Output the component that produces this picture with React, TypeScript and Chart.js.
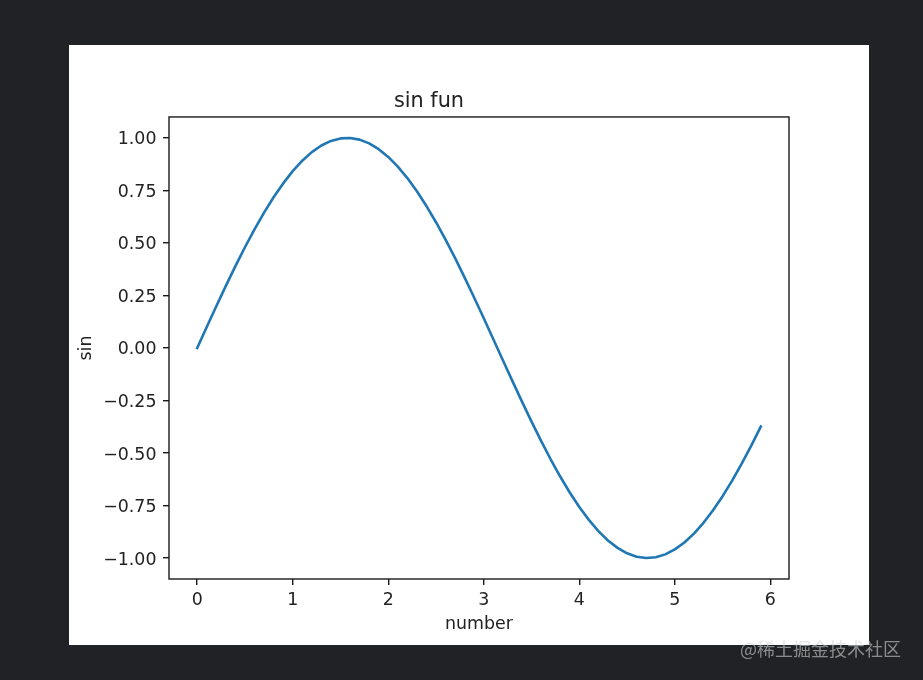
import React, { useEffect, useRef } from "react";
import { Chart, registerables } from "chart.js";

Chart.register(...registerables);

// x values (number) and sin values
const xValues = [
  0.0, 0.1, 0.2, 0.3, 0.4, 0.5, 0.6, 0.7, 0.8, 0.9,
  1.0, 1.1, 1.2, 1.3, 1.4, 1.5, 1.6, 1.7, 1.8, 1.9,
  2.0, 2.1, 2.2, 2.3, 2.4, 2.5, 2.6, 2.7, 2.8, 2.9,
  3.0, 3.1, 3.2, 3.3, 3.4, 3.5, 3.6, 3.7, 3.8, 3.9,
  4.0, 4.1, 4.2, 4.3, 4.4, 4.5, 4.6, 4.7, 4.8, 4.9,
  5.0, 5.1, 5.2, 5.3, 5.4, 5.5, 5.6, 5.7, 5.8, 5.9,
];
const sinValues = [
  0.0, 0.0998, 0.1987, 0.2955, 0.3894, 0.4794, 0.5646, 0.6442, 0.7174, 0.7833,
  0.8415, 0.8912, 0.932, 0.9636, 0.9854, 0.9975, 0.9996, 0.9917, 0.9738, 0.9463,
  0.9093, 0.8632, 0.8085, 0.7457, 0.6755, 0.5985, 0.5155, 0.4274, 0.335, 0.2392,
  0.1411, 0.0416, -0.0584, -0.1577, -0.2555, -0.3508, -0.4425, -0.5298, -0.6119, -0.6878,
  -0.7568, -0.8183, -0.8716, -0.9162, -0.9516, -0.9775, -0.9937, -0.9999, -0.9962, -0.9825,
  -0.9589, -0.9258, -0.8835, -0.8323, -0.7728, -0.7055, -0.6313, -0.5507, -0.4646, -0.3739,
];

const xTickValues = [0, 1, 2, 3, 4, 5, 6];
const xTickLabels = ["0", "1", "2", "3", "4", "5", "6"];
const yTickValues = [-1, -0.75, -0.5, -0.25, 0, 0.25, 0.5, 0.75, 1];
const yTickLabels = ["\u22121.00", "\u22120.75", "\u22120.50", "\u22120.25", "0.00", "0.25", "0.50", "0.75", "1.00"];

const xLimits = [-0.295, 6.195];
const yLimits = [-1.0997, 1.0995];

const TITLE = "sin fun";
const X_LABEL = "number";
const Y_LABEL = "sin";
const WATERMARK = "@稀土掘金技术社区";

const FONT = "'DejaVu Sans', 'Liberation Sans', sans-serif";
const TEXT = "#222222";
const AXIS = "#1a1a1a";

const framePlugin = {
  id: "frame",
  afterDraw(chart: any) {
    const { ctx, chartArea } = chart;
    ctx.save();
    ctx.strokeStyle = AXIS;
    ctx.lineWidth = 1.4;
    ctx.strokeRect(chartArea.left, chartArea.top, chartArea.right - chartArea.left, chartArea.bottom - chartArea.top);
    ctx.restore();
  },
};

export default function App() {
  const ref = useRef<HTMLCanvasElement | null>(null);

  useEffect(() => {
    if (!ref.current) return;
    const chart = new Chart(ref.current, {
      type: "line",
      data: {
        datasets: [
          {
            data: xValues.map((x, i) => ({ x, y: sinValues[i] })),
            borderColor: "#1f77b4",
            borderWidth: 2.6,
            pointRadius: 0,
            tension: 0,
            fill: false,
            borderCapStyle: "square",
            borderJoinStyle: "round",
          },
        ],
      },
      options: {
        animation: false,
        responsive: false,
        devicePixelRatio: 1,
        layout: { padding: { left: 0, right: 80, top: 0, bottom: 0 } },
        plugins: {
          legend: { display: false },
          tooltip: { enabled: false },
          title: {
            display: true,
            text: TITLE,
            color: TEXT,
            font: { family: FONT, size: 20.8, weight: "normal", lineHeight: 1.2 },
            padding: { top: 44, bottom: 3 },
          },
        },
        scales: {
          x: {
            type: "linear",
            min: xLimits[0],
            max: xLimits[1],
            afterBuildTicks: (scale: any) => {
              scale.ticks = xTickValues.map((v) => ({ value: v }));
            },
            afterFit: (scale: any) => {
              scale.height = 66;
            },
            border: { display: false },
            grid: {
              drawOnChartArea: false,
              drawTicks: true,
              tickLength: 6,
              color: AXIS,
              lineWidth: 1.4,
            },
            ticks: {
              padding: 5.3,
              color: TEXT,
              font: { family: FONT, size: 17.4 },
              maxRotation: 0,
              autoSkip: false,
              callback: (_v: any, i: number) => xTickLabels[i],
            },
            title: {
              display: true,
              text: X_LABEL,
              color: TEXT,
              font: { family: FONT, size: 17.4, lineHeight: 1.2 },
              padding: { top: 0, bottom: 10.5 },
            },
          },
          y: {
            type: "linear",
            min: yLimits[0],
            max: yLimits[1],
            afterBuildTicks: (scale: any) => {
              scale.ticks = yTickValues.map((v) => ({ value: v }));
            },
            afterFit: (scale: any) => {
              scale.width = 100;
            },
            border: { display: false },
            grid: {
              drawOnChartArea: false,
              drawTicks: true,
              tickLength: 6,
              color: AXIS,
              lineWidth: 1.4,
            },
            ticks: {
              padding: 6.5,
              labelOffset: 2,
              color: TEXT,
              font: { family: FONT, size: 17.4 },
              autoSkip: false,
              callback: (_v: any, i: number) => yTickLabels[i],
            },
            title: {
              display: true,
              text: Y_LABEL,
              color: TEXT,
              font: { family: FONT, size: 17.4, lineHeight: 1.2 },
              padding: { top: 7.5, bottom: 0 },
            },
          },
        },
      } as any,
      plugins: [framePlugin],
    });
    return () => chart.destroy();
  }, []);

  return (
    <div style={{ position: "fixed", left: 0, top: 0, width: 923, height: 680, background: "#202225", overflow: "hidden" }}>
      <div style={{ position: "absolute", left: 69, top: 45, width: 800, height: 600, background: "#ffffff" }}>
        <canvas ref={ref} width={800} height={600} style={{ display: "block", width: 800, height: 600 }} />
      </div>
      <div
        style={{
          position: "absolute",
          left: 740,
          top: 636,
          fontFamily: "'Noto Sans CJK SC', sans-serif",
          fontSize: 18,
          lineHeight: "24px",
          color: "rgba(210,210,210,0.6)",
          whiteSpace: "nowrap",
        }}
      >
        {WATERMARK}
      </div>
    </div>
  );
}
